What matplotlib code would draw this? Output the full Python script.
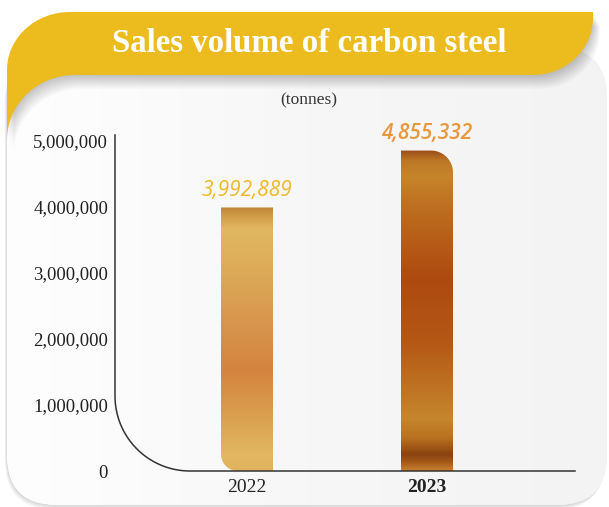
import numpy as np
import matplotlib
matplotlib.use('Agg')
import matplotlib.pyplot as plt
from matplotlib.path import Path
from matplotlib.patches import PathPatch, FancyBboxPatch
from matplotlib.colors import LinearSegmentedColormap
from matplotlib.ticker import FuncFormatter

# ---------------- data ----------------
categories = ['2022', '2023']
values = [3992889, 4855332]
value_labels = ['3,992,889', '4,855,332']
yticks = [0, 1000000, 2000000, 3000000, 4000000, 5000000]
title = 'Sales volume of carbon steel'
unit = '(tonnes)'

# ---------------- styles ----------------
YELLOW = '#ecbc1f'
SERIF = ['Liberation Serif', 'DejaVu Serif']
SANS = ['Open Sans', 'DejaVu Sans']
label_colors = ['#f0b826', '#e8983c']
label_weights = ['normal', 'semibold']
tick_weights = ['normal', 'bold']
grad_2022 = [(0.0, '#bf8538'), (0.03, '#cf9a45'), (0.08, '#e2b862'), (0.25, '#dcaa58'),
             (0.45, '#d8944c'), (0.62, '#d4843e'), (0.8, '#daa050'), (0.94, '#e2b862'), (1.0, '#e0b25c')]
grad_2023 = [(0.0, '#9c4e18'), (0.03, '#bc7626'), (0.08, '#c6842a'), (0.2, '#bc6a1e'),
             (0.4, '#ae4a10'), (0.6, '#b45816'), (0.84, '#c6862c'), (0.9, '#b87020'),
             (0.95, '#8a4210'), (0.975, '#a65a18'), (1.0, '#c88030')]
bar_grads = [grad_2022, grad_2023]
bar_corners = ['bl', 'tr']
bar_radius_px = [17, 22]

W, H = 609, 507
fig = plt.figure(figsize=(W / 100, H / 100), dpi=100)
fig.patch.set_facecolor('white')

# ---------------- background decoration (pixel coords) ----------------
bg = fig.add_axes([0, 0, 1, 1], zorder=0)
bg.set_xlim(0, W)
bg.set_ylim(H, 0)
bg.axis('off')


def arc(cx, cy, rx, ry, t0, t1, n=40):
    t = np.radians(np.linspace(t0, t1, n))
    return list(zip(cx + rx * np.cos(t), cy + ry * np.sin(t)))


# card shadow
for i in range(1, 9):
    sh = FancyBboxPatch((7 - 0.3 * i, 48 + 0.6 * i), 600, 457,
                        boxstyle='round,pad=0,rounding_size=50',
                        facecolor='black', edgecolor='none', alpha=0.02)
    bg.add_patch(sh)

card = FancyBboxPatch((7, 48), 600, 457, boxstyle='round,pad=0,rounding_size=50',
                      facecolor='#f7f7f7', edgecolor='none')
bg.add_patch(card)
card_cmap = LinearSegmentedColormap.from_list(
    'card', [(0, '#fefefe'), (0.15, '#fcfcfc'), (0.5, '#f7f7f7'), (1, '#f3f3f3')])
im_card = bg.imshow(np.linspace(0, 1, 256).reshape(1, -1), cmap=card_cmap,
                    extent=(7, 607, 505, 48), aspect='auto', zorder=1)
im_card.set_clip_path(card)

# yellow header shape
verts = [(7, 140)]
verts += arc(70, 70, 63, 58, 180, 270)
verts += [(593, 12)]
verts += arc(533, 18, 60, 57, 0, 90)
verts += [(75, 75)]
verts += arc(75, 140, 68, 65, 270, 180)
codes = [Path.MOVETO] + [Path.LINETO] * (len(verts) - 1)
verts.append(verts[0])
codes.append(Path.CLOSEPOLY)
ypath = Path(verts, codes)

for i in range(1, 15):
    sp = Path(np.array(verts) + np.array([0.5 * i, i]), codes)
    bg.add_patch(PathPatch(sp, facecolor='black', edgecolor='none', alpha=0.015, zorder=2))
bg.add_patch(PathPatch(ypath, facecolor=YELLOW, edgecolor='none', zorder=3))

bg.text(309.5, 43, title, color='white', fontsize=23.7, fontweight='bold', family=SERIF,
        ha='center', va='center', zorder=4)
bg.text(309, 100, unit, color='#333333', fontsize=12.5, family=SERIF,
        ha='center', va='center', zorder=4)

# ---------------- main chart ----------------
ax = fig.add_axes([115 / W, (H - 471) / H, 460 / W, 336 / H], zorder=2)
ax.patch.set_visible(False)
for s in ax.spines.values():
    s.set_visible(False)

xpos = np.arange(len(categories))
bar_w = 52 / 180
bars = ax.bar(xpos, values, width=bar_w, color='none', edgecolor='none')

XMIN, XMAX = -0.7333, 1.8222
YMAX = 5.0909e6
ax.set_xlim(XMIN, XMAX)
ax.set_ylim(0, YMAX)

px_per_x = 180.0
px_per_y = 66.0 / 1e6

for rect, grad, corner, rpx in zip(bars, bar_grads, bar_corners, bar_radius_px):
    x0 = rect.get_x()
    x1 = x0 + rect.get_width()
    h = rect.get_height()
    rx = rpx / px_per_x
    ry = rpx / px_per_y
    v = []
    if corner == 'bl':
        v += arc(x0 + rx, ry, rx, ry, 180, 270)
    else:
        v.append((x0, 0))
    v.append((x1, 0))
    if corner == 'tr':
        v += arc(x1 - rx, h - ry, rx, ry, 0, 90)
    else:
        v.append((x1, h))
    v.append((x0, h))
    c = [Path.MOVETO] + [Path.LINETO] * (len(v) - 1)
    v.append(v[0])
    c.append(Path.CLOSEPOLY)
    clip = PathPatch(Path(v, c), facecolor='none', edgecolor='none', transform=ax.transData)
    ax.add_patch(clip)
    cmap = LinearSegmentedColormap.from_list('bar', grad)
    im = ax.imshow(np.linspace(0, 1, 512).reshape(-1, 1), cmap=cmap, origin='upper',
                   extent=(x0, x1, 0, h), aspect='auto', zorder=2)
    im.set_clip_path(clip)

ax.set_xlim(XMIN, XMAX)
ax.set_ylim(0, YMAX)

# value labels
for x, val, lab, col, wt in zip(xpos, values, value_labels, label_colors, label_weights):
    ax.annotate(lab, (x, val), xytext=(0, 4.5), textcoords='offset points',
                ha='center', va='bottom', fontsize=15, style='italic', fontweight=wt,
                color=col, family=SANS)

# curved axis line
rx = 75 / px_per_x
ry = 75 / px_per_y
line_pts = [(XMIN, YMAX)] + arc(XMIN + rx, ry, rx, ry, 180, 270) + [(1.8222, 0)]
lx, ly = zip(*line_pts)
ax.plot(lx, ly, color='#333333', lw=1.1, clip_on=False, zorder=3)

# ticks
ax.set_yticks(yticks)
ax.yaxis.set_major_formatter(FuncFormatter(lambda v, p: f'{int(v):,}'))
ax.tick_params(axis='y', length=0, pad=5, labelsize=13.5, labelcolor='#222222')
ax.set_xticks(xpos)
ax.set_xticklabels(categories)
ax.tick_params(axis='x', length=0, pad=6, labelsize=14, labelcolor='#222222')
for t in ax.get_yticklabels():
    t.set_family(SERIF)
for t, wt in zip(ax.get_xticklabels(), tick_weights):
    t.set_family(SERIF)
    t.set_fontweight(wt)

fig.savefig('out.png', dpi=100)
